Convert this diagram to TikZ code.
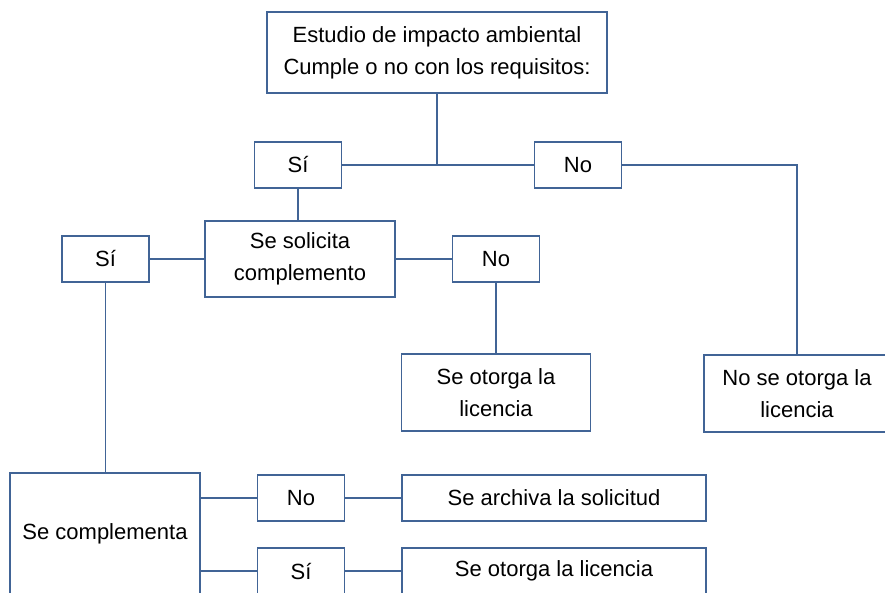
\documentclass[tikz,border=0pt]{standalone}
\usepackage{fontspec}
\setmainfont{Liberation Sans}
\usetikzlibrary{positioning}
\definecolor{boxblue}{RGB}{65,100,150}

\tikzset{
  caja/.style={draw=boxblue, line width=1.8pt, align=center, inner sep=0pt,
    font=\fontsize{22}{32}\selectfont},
  resp/.style={caja, minimum width=87pt, minimum height=46pt},
  linea/.style={draw=boxblue, line width=1.8pt}
}

\begin{document}
\begin{tikzpicture}[x=1pt, y=-1pt]
    \useasboundingbox (0,0) rectangle (885,592);

    % Inicio
    \node[caja, minimum width=340pt, minimum height=81pt] (estudio) at (437,52.5)
        {Estudio de impacto ambiental\\Cumple o no con los requisitos:};

    % Primera respuesta
    \node[resp] (si1) at (298,165) {Sí};
    \node[resp] (no1) at (578,165) {No};
    \node[caja, minimum width=186pt, minimum height=77pt] (nootorga) at (797,393.5)
        {No se otorga la\\licencia};

    % Complemento
    \node[caja, minimum width=190pt, minimum height=76pt] (solicita) at (300,259)
        {Se solicita\\complemento};
    \node[resp] (si2) at (105.5,259) {Sí};
    \node[resp] (no2) at (496,259) {No};
    \node[caja, minimum width=189pt, minimum height=77pt] (otorga) at (496,392.5)
        {Se otorga la\\licencia};
    \node[caja, minimum width=190pt, minimum height=122pt] (complementa) at (105,534)
        {Se complementa};

    % Resultado final
    \foreach \y/\r/\t/\n in {498/No/Se archiva la solicitud/a, 571/Sí/Se otorga la licencia/b} {
        \node[resp] (resp\n) at (301,\y) {\r};
        \node[caja, minimum width=304pt, minimum height=46pt] (fin\n) at (554,\y) {\t};
        \draw[linea] (complementa.east |- resp\n.west) -- (resp\n.west);
        \draw[linea] (resp\n.east) -- (fin\n.west);
    }

    % Conectores
    \draw[linea] (estudio.south) -- (estudio.south |- si1.east);
    \draw[linea] (si1.east) -- (no1.west);
    \draw[linea] (no1.east) -| (nootorga.north);
    \draw[linea] (si1.south) -- (si1.south |- solicita.north);
    \draw[linea] (si2.east) -- (solicita.west);
    \draw[linea] (solicita.east) -- (no2.west);
    \draw[linea] (no2.south) -- (otorga.north);
    \draw[linea] (si2.south) -- (si2.south |- complementa.north);
\end{tikzpicture}
\end{document}
